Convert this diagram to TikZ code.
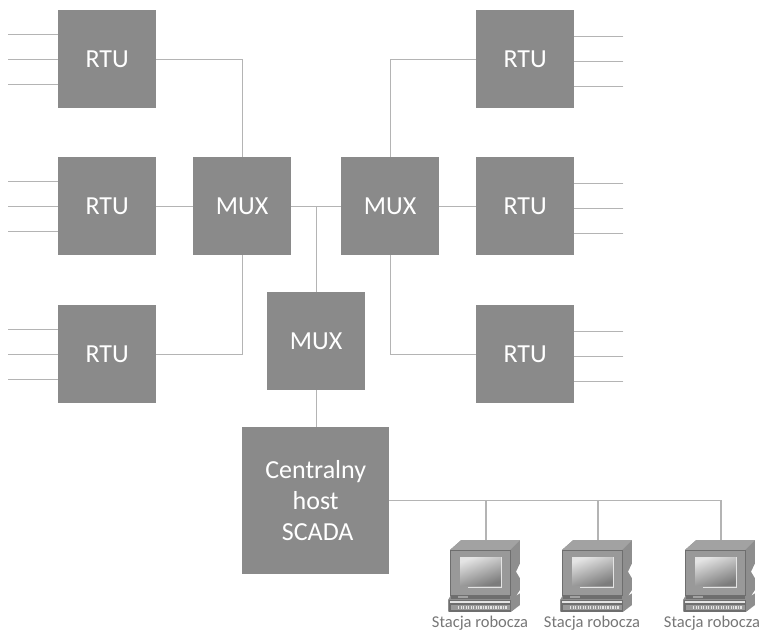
\documentclass[tikz,border=0pt]{standalone}
\usepackage{fontspec}
\setmainfont{Carlito}
\begin{document}
\begin{tikzpicture}[x=1pt,y=-1pt,
  blk/.style={draw=none,fill=boxgray,text=white,inner sep=0pt,font=\fontsize{26}{31}\selectfont,align=center,anchor=north west,minimum width=98pt,minimum height=98pt},
  wire/.style={draw=linegray,line width=1.1pt},
  stlabel/.style={text=capgray,font=\fontsize{16.5}{18}\selectfont,inner sep=0pt},
  station/.pic={
    \begin{scope}[x=0.3333pt,y=-0.3333pt]
      \fill[shade1] (6,30) -- (40,0) -- (216,0) -- (216,70) -- (204,95) -- (216,115) -- (216,150) -- (204,168) -- (216,160) -- (216,195) -- (190,215) -- (0,215) -- (0,180) -- (6,170) -- cycle;
      \fill[shade2] (6,30) -- (40,0) -- (216,0) -- (186,30) -- cycle;
      \fill[shade3] (8,30) rectangle (186,165);
      \draw[frameline,line width=.9pt] (8,30) rectangle (186,165);
      \shade[left color=screenlight,right color=screendark,shading angle=20] (36,52) rectangle (161,135);
      \draw[screenlight,line width=.7pt] (161,52) -- (161,142) -- (60,142);
      \fill[frameline] (2,180) rectangle (190,215);
      \fill[screenlight] (6,183) rectangle (186,189);
      \fill[shade3] (10,196) rectangle (186,210);
      \foreach \k in {0,...,19}{\fill[screenlight] (30+7.5*\k,198) rectangle ++(4,9);}
      \fill[frameline] (8,165) rectangle (186,178);
      \fill[shade2] (30,168) rectangle (60,174);
    \end{scope}
  }]
\definecolor{boxgray}{HTML}{8A8A8A}
\definecolor{linegray}{HTML}{B4B4B4}
\definecolor{capgray}{HTML}{777777}
\definecolor{shade1}{HTML}{8E8E8E}
\definecolor{shade2}{HTML}{A2A2A2}
\definecolor{shade3}{HTML}{999999}
\definecolor{frameline}{HTML}{6E6E6E}
\definecolor{screenlight}{HTML}{E4E4E4}
\definecolor{screendark}{HTML}{7C7C7C}
\useasboundingbox (0,0) rectangle (764,632);
\fill[white] (0,0) rectangle (764,632);
% boxes
\node[blk] (r1) at (58,10) {RTU};
\node[blk] (r2) at (58,157) {RTU};
\node[blk] (r3) at (58,305) {RTU};
\node[blk] (r4) at (476,10) {RTU};
\node[blk] (r5) at (476,157) {RTU};
\node[blk] (r6) at (476,305) {RTU};
\node[blk] (m1) at (193,157) {MUX};
\node[blk] (m2) at (341,157) {MUX};
\node[blk] (m3) at (267,292) {MUX};
\node[blk,minimum width=147pt,minimum height=147pt] (ch) at (242,427) {Centralny\\host\\\hspace{4pt}SCADA};
% stub ends
\foreach \n in {r1,r2,r3}{
  \foreach \d/\t in {25/a,0/b,-25/c}{
    \coordinate (\n\t) at ([xshift=-50pt,yshift=\d pt]\n.west);
    \draw[wire] (\n\t) -- (\n\t -| \n.west);
  }}
\foreach \n in {r4,r5,r6}{
  \foreach \d/\t in {23/a,-2/b,-27/c}{
    \coordinate (\n\t) at ([xshift=49pt,yshift=\d pt]\n.east);
    \draw[wire] (\n\t) -- (\n\t -| \n.east);
  }}
% connectors
\draw[wire] (r1.east) -| (m1.north);
\draw[wire] (r2.east) -- (m1.west);
\draw[wire] (r3.east) -| (m1.south);
\draw[wire] (r4.west) -| (m2.north);
\draw[wire] (r5.west) -- (m2.east);
\draw[wire] (r6.west) -| (m2.south);
\draw[wire] (m1.east) -- (m2.west);
\coordinate (jn) at (m1.east -| m3.north);
\draw[wire] (m3.north) -- (jn);
\draw[wire] (m3.south) -- (ch.north -| m3.south);
% stations
\coordinate (s1) at (448,540);
\coordinate (s2) at (560,540);
\coordinate (s3) at (683,540);
\coordinate (t1) at ([xshift=38pt]s1);
\coordinate (t2) at ([xshift=38pt]s2);
\coordinate (t3) at ([xshift=38pt]s3);
\draw[wire] (ch.east) -- (ch.east -| t3) -- (t3);
\draw[wire] (ch.east -| t1) -- (t1);
\draw[wire] (ch.east -| t2) -- (t2);
\pic at (s1) {station};
\pic at (s2) {station};
\pic at (s3) {station};
\node[stlabel] (l1) at (480,623) {Stacja robocza};
\node[stlabel] (l2) at (592,623) {Stacja robocza};
\node[stlabel] (l3) at (712,623) {Stacja robocza};
\end{tikzpicture}
\end{document}
